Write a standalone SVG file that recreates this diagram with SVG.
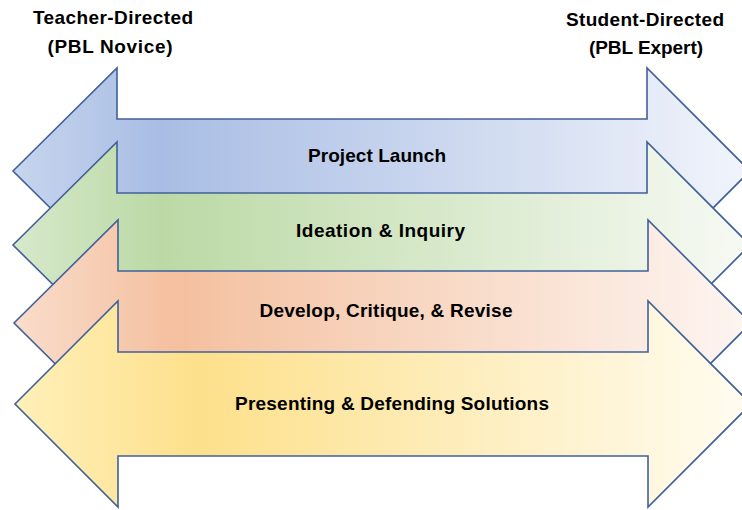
<svg xmlns="http://www.w3.org/2000/svg" width="742" height="510" viewBox="0 0 742 510">
<style>
.arrow{stroke:#41609a;stroke-width:1.6;stroke-linejoin:miter}
.lbl{font-family:"Liberation Sans",Arial,sans-serif;font-weight:bold;font-size:19px;fill:#000;text-anchor:middle}
.ttl{font-family:"Liberation Sans",Arial,sans-serif;font-weight:bold;font-size:19px;fill:#000;text-anchor:middle}
</style>
<defs>
<linearGradient id="gBlue" gradientUnits="userSpaceOnUse" x1="13" y1="0" x2="750" y2="0">
<stop offset="0" stop-color="#c7d5ed"/><stop offset="0.2" stop-color="#a9bde4"/><stop offset="1" stop-color="#f1f4fb"/>
</linearGradient>
<linearGradient id="gGreen" gradientUnits="userSpaceOnUse" x1="13" y1="0" x2="750" y2="0">
<stop offset="0" stop-color="#d7e9cc"/><stop offset="0.2" stop-color="#bbd9a5"/><stop offset="1" stop-color="#f7faf4"/>
</linearGradient>
<linearGradient id="gOrange" gradientUnits="userSpaceOnUse" x1="13" y1="0" x2="750" y2="0">
<stop offset="0" stop-color="#f9ddcc"/><stop offset="0.22" stop-color="#f4c09f"/><stop offset="1" stop-color="#fdf5f1"/>
</linearGradient>
<linearGradient id="gYellow" gradientUnits="userSpaceOnUse" x1="13" y1="0" x2="750" y2="0">
<stop offset="0" stop-color="#fff0ba"/><stop offset="0.25" stop-color="#fde08b"/><stop offset="1" stop-color="#fffcf1"/>
</linearGradient>
</defs>
<g id="title-left">
<text class="ttl" x="113" y="24" textLength="160">Teacher-Directed</text>
<text class="ttl" x="110" y="53" textLength="125">(PBL Novice)</text>
</g>
<g id="title-right">
<text class="ttl" x="645" y="26" textLength="158">Student-Directed</text>
<text class="ttl" x="646" y="54" textLength="114">(PBL Expert)</text>
</g>
<g id="connectors"></g>
<g id="project-launch">
<path class="arrow" fill="url(#gBlue)" d="M13,171 L117,68 L117,119 L647,119 L647,68 L750,171 L647,274 L647,223 L117,223 L117,274 Z"/>
<text class="lbl" x="377" y="162" textLength="138">Project Launch</text>
</g>
<g id="ideation-inquiry">
<path class="arrow" fill="url(#gGreen)" d="M13,245 L117,142 L117,193 L647,193 L647,142 L750,245 L647,348 L647,297 L117,297 L117,348 Z"/>
<text class="lbl" x="380.5" y="237" textLength="169">Ideation &amp; Inquiry</text>
</g>
<g id="develop-critique-revise">
<path class="arrow" fill="url(#gOrange)" d="M14,323 L118,220 L118,271 L648,271 L648,220 L751,323 L648,426 L648,375 L118,375 L118,426 Z"/>
<text class="lbl" x="386" y="317" textLength="253">Develop, Critique, &amp; Revise</text>
</g>
<g id="presenting-defending">
<path class="arrow" fill="url(#gYellow)" d="M15,404 L118,301 L118,352 L648,352 L648,301 L751,404 L648,507 L648,456 L118,456 L118,507 Z"/>
<text class="lbl" x="392" y="410" textLength="314">Presenting &amp; Defending Solutions</text>
</g>
</svg>
